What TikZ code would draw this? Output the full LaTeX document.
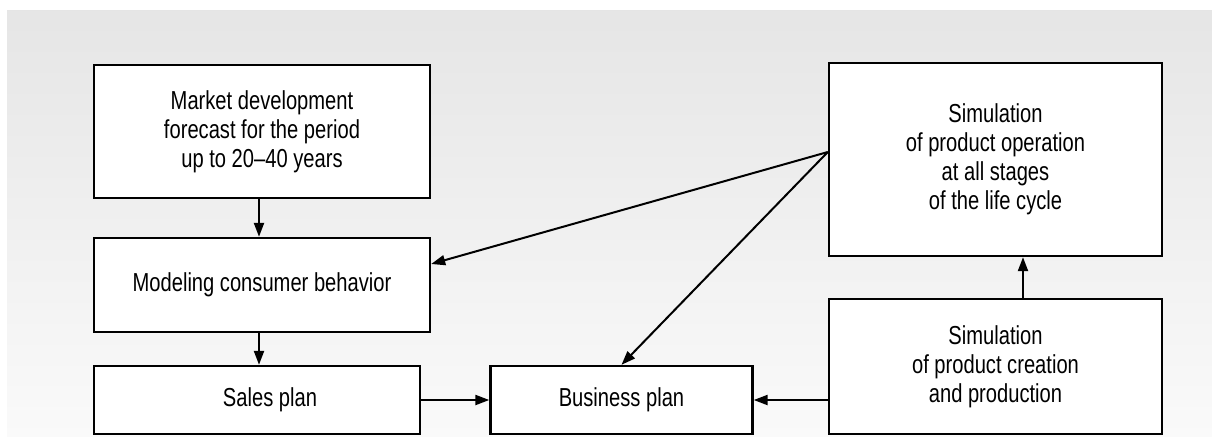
\documentclass[tikz,border=0pt]{standalone}
\usepackage{fontspec}
\setmainfont{Liberation Sans}[FakeStretch=0.775]
\usepackage{tikz}
\usetikzlibrary{arrows.meta, positioning}
\tikzset{blk/.style={draw=black, line width=1.2pt, fill=white, align=center,
		inner sep=0pt, font=\fontsize{13}{14.5}\selectfont},
	arr/.style={line width=1.1pt, -{Triangle[length=7pt,width=5pt]}},
	thinarr/.style={line width=1pt, -{Triangle[length=7pt,width=5pt]}}}

\begin{document}
\begin{tikzpicture}[x=0.5pt,y=-0.5pt]
			\useasboundingbox (0,0) rectangle (1212,436);
			\fill[white] (0,0) rectangle (1212,436);
			\shade[top color=black!10, bottom color=black!2] (7,10) rectangle (1212,436);
			% left column
			\node[blk, minimum width=168pt, minimum height=66.5pt] (mkt) at (262,131.5) {Market development\\forecast for the period\\up to 20--40 years};
			\node[blk, minimum width=168pt, minimum height=47pt] (mod) at (262,285) {Modeling consumer behavior};
			\node[blk, minimum width=163pt, minimum height=34pt] (sal) at (257,400) {\hspace*{13pt}Sales plan};
			% middle
			\node[blk, minimum width=131pt, minimum height=34pt] (bus) at (621.5,400) {Business plan};
			% right column
			\node[blk, minimum width=166.5pt, minimum height=96.5pt] (op) at (995.5,159.5) {Simulation\\of product operation\\at all stages\\of the life cycle};
			\node[blk, minimum width=166.5pt, minimum height=67.5pt] (cre) at (995.5,366.5) {Simulation\\of product creation\\and production};
			\coordinate (opout) at ([yshift=3.75pt]op.west);
			% connectors
			\draw[arr] ([xshift=-1.5pt]mkt.south) -- ([xshift=-1.5pt]mod.north);
			\draw[arr] ([xshift=-1.5pt]mod.south) -- ([xshift=-1.5pt]mod.south |- sal.north);
			\draw[arr] (sal.east) -- (bus.west);
			\draw[arr] (bus.east -| cre.west) -- (bus.east);
			\draw[arr] ([xshift=13.75pt]cre.north) -- ([xshift=13.75pt]op.south);
			\draw[thinarr] (opout) -- ([yshift=10.5pt]mod.east);
			\draw[thinarr] (opout) -- (bus.north);
		\end{tikzpicture}
\end{document}
